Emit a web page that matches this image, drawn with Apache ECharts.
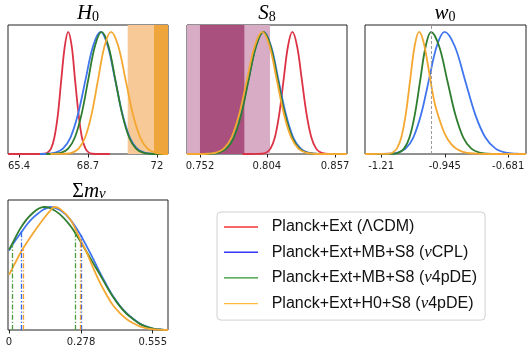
<!DOCTYPE html>
<html><head><meta charset="utf-8">
<script src="https://cdn.jsdelivr.net/npm/echarts@6/dist/echarts.min.js"></script>
<style>html,body{margin:0;padding:0;background:#fff}#c{width:531px;height:354px}</style>
</head><body><div id="c"></div>
<script>
// ---------- data ----------
const names = ['Planck+Ext (ΛCDM)', 'Planck+Ext+MB+S8 (νCPL)', 'Planck+Ext+MB+S8 (ν4pDE)', 'Planck+Ext+H0+S8 (ν4pDE)'];
const curveColors = ['#dc3245', '#3f75ee', '#2f7d2f', '#f5a831'];
const legendColors = ['#f43535', '#3535f4', '#2c962c', '#ffbb3a'];

const h0Ticks = [65.4, 68.7, 72];
const s8Ticks = [0.752, 0.804, 0.857];
const w0Ticks = [-1.21, -0.945, -0.681];
const mnuTicks = [0, 0.278, 0.555];

const h0Range = [64.87, 72.53];
const s8Range = [0.7419, 0.8663];
const w0Range = [-1.277, -0.607];
const mnuRange = [-0.004, 0.614];

// H0 posteriors [H0, P/Pmax]
const h0Red = [[64.87,0],[66.2,0],[66.6,0.002],[66.76,0.011],[66.93,0.044],[67.09,0.135],[67.26,0.325],[67.42,0.607],[67.59,0.883],[67.75,1],[67.92,0.883],[68.08,0.607],[68.25,0.325],[68.41,0.135],[68.58,0.044],[68.74,0.011],[68.9,0.002],[69.3,0],[69.75,0]];
const h0Blue = [[66.4,0],[66.78,0.002],[67.14,0.011],[67.5,0.044],[67.86,0.135],[68.22,0.325],[68.58,0.607],[68.94,0.883],[69.3,1],[69.65,0.883],[70.0,0.607],[70.35,0.325],[70.7,0.135],[71.05,0.044],[71.4,0.011],[71.75,0.002],[72.1,0],[72.53,0]];
const h0Green = [[66.7,0],[67.11,0.002],[67.43,0.011],[67.75,0.044],[68.07,0.135],[68.39,0.325],[68.71,0.607],[69.03,0.883],[69.35,1],[69.68,0.883],[70.01,0.607],[70.34,0.325],[70.67,0.135],[71.0,0.044],[71.33,0.011],[71.66,0.002],[72.0,0],[72.53,0]];
const h0Orange = [[66.9,0],[67.2,0.0005],[67.63,0.002],[67.94,0.011],[68.25,0.044],[68.56,0.135],[68.87,0.325],[69.18,0.607],[69.49,0.883],[69.8,1],[70.15,0.883],[70.5,0.607],[70.85,0.325],[71.2,0.135],[71.55,0.044],[71.9,0.011],[72.25,0.002],[72.53,0]];
const h0Bands = [[70.6, 72.53], [71.86, 72.53]];
const h0BandColors = ['#f6c996', '#eea53c'];

// S8 posteriors
const s8Red = [[0.785,0],[0.795,0.0005],[0.8,0.002],[0.8034,0.011],[0.8068,0.044],[0.8102,0.135],[0.8136,0.325],[0.817,0.607],[0.8204,0.883],[0.8238,1],[0.8275,0.883],[0.8312,0.607],[0.8349,0.325],[0.8386,0.135],[0.8423,0.044],[0.846,0.011],[0.8497,0.002],[0.855,0],[0.8663,0]];
const s8Blue = [[0.7419,0],[0.752,0],[0.7602,0.002],[0.7661,0.011],[0.772,0.044],[0.7779,0.135],[0.7838,0.325],[0.7897,0.607],[0.7956,0.883],[0.8015,1],[0.8073,0.883],[0.813,0.607],[0.8188,0.325],[0.8245,0.135],[0.8303,0.044],[0.836,0.011],[0.8418,0.002],[0.85,0],[0.8663,0]];
const s8Green = [[0.7419,0],[0.753,0],[0.7611,0.002],[0.7668,0.011],[0.7726,0.044],[0.7783,0.135],[0.7841,0.325],[0.7898,0.607],[0.7956,0.883],[0.8013,1],[0.8069,0.883],[0.8125,0.607],[0.8181,0.325],[0.8237,0.135],[0.8293,0.044],[0.8349,0.011],[0.8405,0.002],[0.848,0],[0.8663,0]];
const s8Orange = [[0.7419,0],[0.75,0],[0.7585,0.002],[0.7645,0.011],[0.7705,0.044],[0.7765,0.135],[0.7825,0.325],[0.7885,0.607],[0.7945,0.883],[0.8005,1],[0.8061,0.883],[0.8117,0.607],[0.8173,0.325],[0.8229,0.135],[0.8285,0.044],[0.8341,0.011],[0.8397,0.002],[0.847,0],[0.8663,0]];
const s8Bands = [[0.7419, 0.8064], [0.752, 0.7865]];
const s8BandColors = ['#d7acc4', '#a9507e'];

// w0 posteriors
const w0Blue = [[-1.277,0],[-1.22,0.0005],[-1.1735,0.002],[-1.141,0.011],[-1.1085,0.044],[-1.076,0.135],[-1.0435,0.325],[-1.011,0.607],[-0.9785,0.883],[-0.946,1],[-0.9035,0.883],[-0.861,0.607],[-0.8185,0.325],[-0.776,0.135],[-0.7335,0.044],[-0.691,0.011],[-0.6485,0.002],[-0.607,0]];
const w0Green = [[-1.277,0],[-1.2,0.0003],[-1.1595,0.002],[-1.137,0.011],[-1.1145,0.044],[-1.092,0.135],[-1.0695,0.325],[-1.047,0.607],[-1.0245,0.883],[-1.002,1],[-0.9685,0.883],[-0.935,0.607],[-0.9015,0.325],[-0.868,0.135],[-0.8345,0.044],[-0.801,0.011],[-0.7675,0.002],[-0.72,0],[-0.607,0]];
const w0Orange = [[-1.277,0],[-1.22,0.0003],[-1.1815,0.002],[-1.163,0.011],[-1.1445,0.044],[-1.126,0.135],[-1.1075,0.325],[-1.089,0.607],[-1.0705,0.883],[-1.052,1],[-1.035,0.93],[-1.017,0.75],[-1.0,0.55],[-0.985,0.4],[-0.965,0.27],[-0.945,0.165],[-0.92,0.085],[-0.895,0.04],[-0.87,0.018],[-0.84,0.006],[-0.8,0.001],[-0.75,0],[-0.607,0]];
const w0Ref = [-1.0];

// sum m_nu posteriors
const mnuBlue = [[0,0.645],[0.017,0.705],[0.049,0.8],[0.07,0.86],[0.094,0.915],[0.115,0.952],[0.132,0.978],[0.16,1],[0.197,0.975],[0.236,0.9],[0.274,0.78],[0.3,0.68],[0.326,0.575],[0.35,0.47],[0.377,0.365],[0.4,0.28],[0.429,0.195],[0.455,0.135],[0.48,0.09],[0.505,0.052],[0.532,0.027],[0.56,0.01],[0.59,0.003],[0.614,0]];
const mnuGreen = [[0,0.652],[0.017,0.72],[0.042,0.82],[0.068,0.9],[0.094,0.955],[0.115,0.988],[0.135,1],[0.16,0.99],[0.197,0.94],[0.236,0.85],[0.255,0.79],[0.29,0.67],[0.326,0.54],[0.35,0.455],[0.377,0.355],[0.4,0.275],[0.429,0.19],[0.455,0.13],[0.48,0.088],[0.505,0.05],[0.532,0.025],[0.56,0.01],[0.59,0.003],[0.614,0]];
const mnuOrange = [[0,0.448],[0.023,0.543],[0.055,0.666],[0.094,0.79],[0.132,0.9],[0.155,0.96],[0.175,1],[0.197,0.985],[0.236,0.9],[0.274,0.74],[0.3,0.63],[0.326,0.5],[0.35,0.39],[0.377,0.285],[0.4,0.205],[0.429,0.136],[0.455,0.088],[0.48,0.055],[0.505,0.03],[0.532,0.014],[0.56,0.005],[0.59,0.001],[0.614,0]];
// 68% limits [x, height]
const mnuBlueLimits = [[0.049,0.8],[0.277,0.77]];
const mnuGreenLimits = [[0.013,0.70],[0.255,0.79]];
const mnuOrangeLimits = [[0.055,0.666],[0.274,0.74]];

// ---------- chart ----------
const grids = [
  {left: 8, top: 25, width: 160, height: 129},
  {left: 187, top: 25, width: 160, height: 129},
  {left: 365, top: 25, width: 161, height: 129},
  {left: 8, top: 200, width: 160, height: 130}
];
const ranges = [h0Range, s8Range, w0Range, mnuRange];
const ticks = [h0Ticks, s8Ticks, w0Ticks, mnuTicks];
const YMAX = 1.057;

const xAxes = grids.map((g, i) => ({
  gridIndex: i, type: 'value', min: ranges[i][0], max: ranges[i][1],
  axisLine: {show: false}, splitLine: {show: false},
  axisTick: {show: true, customValues: ticks[i], length: 3.5, lineStyle: {color: '#222', width: 1}},
  axisLabel: {customValues: ticks[i], margin: 7, fontSize: 10, fontFamily: 'DejaVu Sans', color: '#222'}
}));
const yAxes = grids.map((g, i) => ({gridIndex: i, type: 'value', min: 0, max: YMAX, show: false}));

function curve(name, idx, data, colorIdx, extra) {
  return Object.assign({
    name: name, type: 'line', xAxisIndex: idx, yAxisIndex: idx, data: data,
    smooth: 0.35, symbol: 'none', clip: true, z: 3,
    lineStyle: {color: curveColors[colorIdx], width: 1.8},
    itemStyle: {color: curveColors[colorIdx]}
  }, extra || {});
}
function bands(idx, list, colors) {
  return {
    type: 'line', xAxisIndex: idx, yAxisIndex: idx, data: [], silent: true, z: 1,
    markArea: {silent: true, data: list.map((b, k) => [
      {xAxis: b[0], itemStyle: {color: colors[k], opacity: 1}}, {xAxis: b[1]}
    ])}
  };
}
function limits(list, color) {
  return {markLine: {silent: true, symbol: ['none', 'none'], label: {show: false},
    lineStyle: {color: color, width: 1.3, type: [5, 2, 1.3, 2], opacity: 1},
    emphasis: {disabled: true},
    data: list.map(([x, h]) => [{coord: [x, 0], lineStyle: {color: color}}, {coord: [x, h]}])}};
}

const series = [
  bands(0, h0Bands, h0BandColors),
  curve(names[0], 0, h0Red, 0),
  curve(names[1], 0, h0Blue, 1),
  curve(names[2], 0, h0Green, 2),
  curve(names[3], 0, h0Orange, 3),
  bands(1, s8Bands, s8BandColors),
  curve(names[0], 1, s8Red, 0),
  curve(names[1], 1, s8Blue, 1),
  curve(names[2], 1, s8Green, 2),
  curve(names[3], 1, s8Orange, 3),
  {type: 'line', xAxisIndex: 2, yAxisIndex: 2, data: [], z: 2, silent: true,
   markLine: {silent: true, symbol: ['none', 'none'], label: {show: false},
     lineStyle: {color: '#9a9a9a', width: 1, type: [3, 2]},
     data: w0Ref.map(v => ({xAxis: v}))}},
  curve(names[1], 2, w0Blue, 1),
  curve(names[2], 2, w0Green, 2),
  curve(names[3], 2, w0Orange, 3),
  curve(names[1], 3, mnuBlue, 1, limits(mnuBlueLimits, '#2f66f0')),
  curve(names[2], 3, mnuGreen, 2, limits(mnuGreenLimits, '#4c9e3c')),
  curve(names[3], 3, mnuOrange, 3, limits(mnuOrangeLimits, '#f5a030'))
];

const rich = {
  i: {fontFamily: 'Liberation Serif', fontStyle: 'italic', fontWeight: 'normal', fontSize: 21, lineHeight: 24, verticalAlign: 'bottom', color: '#000'},
  u: {fontFamily: 'Liberation Serif', fontWeight: 'normal', fontSize: 20, lineHeight: 24, verticalAlign: 'bottom', color: '#000'},
  s: {fontFamily: 'Liberation Serif', fontWeight: 'normal', fontSize: 14, lineHeight: 14, verticalAlign: 'bottom', color: '#000'},
  si: {fontFamily: 'Liberation Serif', fontStyle: 'italic', fontWeight: 'normal', fontSize: 15, lineHeight: 14, verticalAlign: 'bottom', color: '#000'}
};
const titles = [
  {text: '{i|H}{s|0}', left: 88, top: 0},
  {text: '{i|S}{s|8}', left: 267, top: 0},
  {text: '{i|w}{s|0}', left: 445, top: 0},
  {text: '{u|Σ}{i|m}{si|ν}', left: 89, top: 178}
].map(t => Object.assign(t, {textAlign: 'center', padding: 0, textStyle: {fontWeight: 'normal', rich: rich}}));

const option = {
  backgroundColor: '#fff',
  animation: false,
  title: titles,
  grid: grids.map(g => Object.assign({show: true, borderColor: '#222', borderWidth: 1, backgroundColor: 'transparent', containLabel: false}, g)),
  xAxis: xAxes,
  yAxis: yAxes,
  legend: {
    orient: 'vertical', left: 217, top: 212,
    padding: [7, 8, 8, 7], itemGap: 8.7, itemWidth: 34, itemHeight: 1.4,
    backgroundColor: '#fff', borderColor: '#d0d0d0', borderWidth: 1, borderRadius: 4,
    icon: 'rect',
    data: names.map((n, k) => ({name: n, icon: 'rect', itemStyle: {color: legendColors[k]}})),
    formatter: n => n.replace('ν', '{g|ν}'),
    textStyle: {fontFamily: 'Liberation Sans', fontSize: 16, lineHeight: 16, color: '#111', padding: [0, 0, 0, 8.7],
      rich: {g: {fontFamily: 'Liberation Serif', fontStyle: 'italic', fontSize: 17, lineHeight: 16, color: '#111'}}}
  },
  series: series
};
const chart = echarts.init(document.getElementById('c'), null, {renderer: 'canvas'});
chart.setOption(option);
</script>
</body></html>
